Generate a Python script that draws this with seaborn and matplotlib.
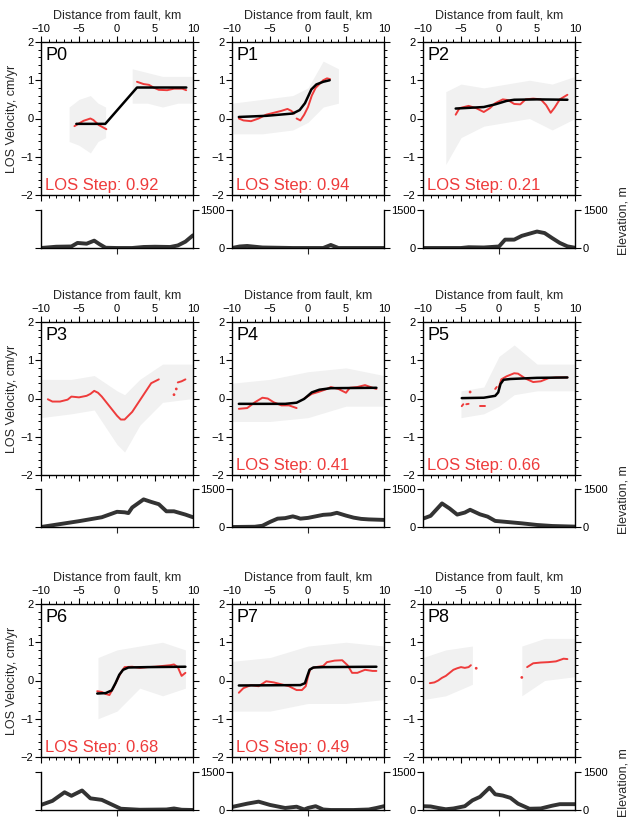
import numpy as np
import pandas as pd
import matplotlib
matplotlib.use("Agg")
import matplotlib.pyplot as plt
from matplotlib.ticker import MultipleLocator, FixedLocator
import seaborn as sns

sns.set_theme(style="white")
plt.rcParams['font.family'] = ['Liberation Sans', 'DejaVu Sans']

# ---------------- data ----------------
panel_names = ["P0", "P1", "P2", "P3", "P4", "P5", "P6", "P7", "P8"]
los_steps = [0.92, 0.94, 0.21, None, 0.41, 0.66, 0.68, 0.49, None]

# black model fits (x km, v cm/yr)
fit_x = {
    "P0": [-5.35, -1.54, 2.63, 9.12],
    "P1": [-9.1, -5.5, -2.0, -1.1, -0.4, 0.0, 0.44, 1.1, 2.0, 2.85],
    "P2": [-5.7, -2.0, -0.5, 1.0, 2.0, 5.0, 9.0],
    "P4": [-9.1, -3.0, -1.5, -0.5, 0.5, 1.5, 3.0, 9.0],
    "P5": [-4.9, -2.0, -0.5, -0.1, 0.2, 0.6, 1.5, 5.0, 9.0],
    "P6": [-2.6, -1.5, -0.7, -0.2, 0.3, 0.8, 1.5, 4.0, 9.0],
    "P7": [-9.1, -1.0, -0.4, -0.1, 0.2, 0.7, 2.0, 9.0],
}
fit_v = {
    "P0": [-0.14, -0.14, 0.81, 0.81],
    "P1": [0.04, 0.07, 0.13, 0.22, 0.40, 0.57, 0.76, 0.89, 0.96, 1.00],
    "P2": [0.26, 0.30, 0.37, 0.46, 0.49, 0.50, 0.49],
    "P4": [-0.14, -0.14, -0.11, -0.01, 0.16, 0.23, 0.27, 0.28],
    "P5": [0.01, 0.02, 0.07, 0.16, 0.38, 0.49, 0.51, 0.54, 0.55],
    "P6": [-0.34, -0.33, -0.26, -0.07, 0.15, 0.28, 0.34, 0.35, 0.36],
    "P7": [-0.13, -0.12, -0.07, 0.11, 0.28, 0.34, 0.35, 0.36],
}

# red running means: list of segments per panel
red_x = {
    "P0": [[-5.6, -4.4, -3.5, -3.1, -2.4, -1.4],
           [2.63, 3.5, 4.2, 4.8, 5.5, 6.6, 7.5, 8.6, 9.1]],
    "P1": [[-9.1, -8.5, -7.5, -6.5, -5.5, -4.5, -3.5, -2.7, -2.2, -1.8],
           [-1.5, -1.0, -0.5, 0.0, 0.5, 1.0, 1.5, 2.0, 2.5, 2.9]],
    "P2": [[-5.7, -5.2, -4.0, -3.0, -2.0, -1.2, -0.5, 0.5, 1.2, 2.0, 2.8,
            3.5, 4.5, 5.5, 6.2, 6.8, 7.3, 8.0, 9.0]],
    "P3": [[-9.1, -8.5, -7.5, -6.5, -6.0, -5.0, -4.0, -3.5, -3.0, -2.5, -2.0,
            -1.0, 0.0, 0.5, 1.0, 2.0, 3.0, 4.0, 4.5, 5.0, 5.5],
           [7.5], [7.8], [8.0, 8.5, 9.0]],
    "P4": [[-9.1, -8.0, -7.0, -6.0, -5.3, -4.5, -3.5, -2.5, -1.5],
           [-0.5, 0.5, 1.5, 2.5, 3.0, 4.0, 5.0, 5.5, 6.5, 7.5, 8.5, 9.0]],
    "P5": [[-4.9, -4.7], [-4.3, -4.0], [-3.8], [-2.5, -2.2, -1.9], [-0.5, -0.3],
           [0.0, 0.3, 1.0, 2.0, 2.5, 3.5, 4.5, 5.5, 6.5, 7.5, 9.0]],
    "P6": [[-2.6, -2.0, -1.5, -1.0, -0.5, 0.0, 0.5, 1.0, 2.0, 3.0, 4.0, 5.0,
            6.0, 7.0, 7.5, 8.0, 8.5, 9.0]],
    "P7": [[-9.1, -8.5, -7.5, -6.5, -5.5, -4.5, -3.5, -2.5, -1.5, -0.8, -0.3,
            0.0, 0.3, 1.0, 2.0, 2.5, 3.5, 4.5, 5.2, 5.8, 6.5, 7.5, 8.5, 9.0]],
    "P8": [[-9.1, -8.5, -8.0, -7.5, -7.0, -6.5, -6.0, -5.5, -5.0, -4.5, -4.0, -3.7],
           [-3.0], [3.0],
           [3.7, 4.5, 5.5, 6.5, 7.5, 8.5, 9.0]],
}
red_v = {
    "P0": [[-0.20, -0.06, 0.00, -0.04, -0.17, -0.28],
           [0.96, 0.90, 0.88, 0.81, 0.75, 0.74, 0.78, 0.78, 0.74]],
    "P1": [[0.0, -0.05, -0.07, 0.0, 0.10, 0.15, 0.20, 0.25, 0.20, 0.13],
           [0.0, -0.05, 0.10, 0.30, 0.60, 0.80, 0.90, 1.00, 1.05, 1.03]],
    "P2": [[0.10, 0.27, 0.33, 0.27, 0.17, 0.27, 0.40, 0.50, 0.48, 0.38, 0.37,
            0.50, 0.52, 0.50, 0.35, 0.15, 0.28, 0.50, 0.62]],
    "P3": [[-0.02, -0.08, -0.08, -0.03, 0.05, 0.03, 0.07, 0.12, 0.20, 0.15, 0.05,
            -0.20, -0.45, -0.55, -0.55, -0.35, -0.05, 0.25, 0.40, 0.45, 0.50],
           [0.10], [0.25], [0.42, 0.45, 0.50]],
    "P4": [[-0.27, -0.25, -0.10, 0.02, 0.0, -0.10, -0.18, -0.18, -0.25],
           [0.0, 0.12, 0.18, 0.25, 0.30, 0.25, 0.15, 0.28, 0.30, 0.35, 0.28, 0.25]],
    "P5": [[-0.20, -0.15], [-0.15, -0.14], [0.17], [-0.20, -0.20, -0.20], [0.25, 0.30],
           [0.30, 0.50, 0.58, 0.66, 0.65, 0.52, 0.43, 0.45, 0.53, 0.55, 0.55]],
    "P6": [[-0.28, -0.30, -0.35, -0.38, -0.20, 0.0, 0.20, 0.35, 0.36, 0.33, 0.35,
            0.36, 0.38, 0.40, 0.42, 0.35, 0.12, 0.20]],
    "P7": [[-0.32, -0.20, -0.12, -0.15, -0.02, -0.05, -0.10, -0.15, -0.25, -0.25,
            -0.15, 0.10, 0.30, 0.35, 0.38, 0.48, 0.52, 0.53, 0.40, 0.20, 0.20,
            0.28, 0.25, 0.25]],
    "P8": [[-0.07, -0.05, 0.0, 0.07, 0.12, 0.20, 0.28, 0.32, 0.35, 0.33, 0.35, 0.40],
           [0.32], [0.08],
           [0.35, 0.45, 0.47, 0.48, 0.50, 0.57, 0.56]],
}

# gray data clouds: segments of (x, lower, upper)
cloud_x = {
    "P0": [[-6.3, -5.0, -3.5, -2.5, -1.5], [2.0, 4.0, 6.0, 8.0, 10.0]],
    "P1": [[-10.0, -6.0, -2.0, 0.0, 2.0, 4.0]],
    "P2": [[-7.0, -5.0, -2.0, 1.0, 4.0, 7.0, 10.0]],
    "P3": [[-10.0, -6.0, -3.0, 0.0, 1.0, 3.0, 6.0, 10.0]],
    "P4": [[-10.0, -5.0, 0.0, 5.0, 10.0]],
    "P5": [[-5.0, -2.0, 0.0, 2.0, 5.0, 10.0]],
    "P6": [[-2.5, 0.0, 3.0, 6.0, 9.0]],
    "P7": [[-10.0, -5.0, 0.0, 5.0, 10.0]],
    "P8": [[-10.0, -7.0, -3.5], [3.0, 6.0, 10.0]],
}
cloud_lo = {
    "P0": [[-0.6, -0.7, -0.9, -0.6, -0.5], [0.4, 0.4, 0.3, 0.4, 0.4]],
    "P1": [[-0.4, -0.4, -0.3, -0.1, 0.3, 0.4]],
    "P2": [[-1.2, -0.5, -0.2, -0.1, 0.0, -0.3, 0.0]],
    "P3": [[-0.5, -0.4, -0.3, -1.2, -1.4, -0.7, -0.1, 0.0]],
    "P4": [[-0.6, -0.6, -0.5, -0.2, -0.2]],
    "P5": [[-0.5, -0.4, -0.2, 0.1, 0.2, 0.2]],
    "P6": [[-1.0, -0.8, -0.2, -0.4, -0.2]],
    "P7": [[-0.8, -0.8, -0.6, -0.6, -0.5]],
    "P8": [[-0.5, -0.4, -0.1], [-0.4, 0.0, 0.1]],
}
cloud_hi = {
    "P0": [[0.3, 0.5, 0.6, 0.4, 0.3], [1.3, 1.2, 1.1, 1.1, 1.1]],
    "P1": [[0.4, 0.5, 0.6, 0.8, 1.5, 1.3]],
    "P2": [[0.7, 0.9, 0.8, 0.9, 1.0, 0.9, 1.1]],
    "P3": [[0.5, 0.5, 0.6, 0.2, 0.1, 0.5, 0.9, 0.9]],
    "P4": [[0.4, 0.5, 0.7, 0.8, 0.6]],
    "P5": [[0.2, 0.3, 1.1, 1.4, 0.9, 0.9]],
    "P6": [[0.6, 0.8, 0.9, 1.0, 0.8]],
    "P7": [[0.5, 0.6, 0.9, 1.0, 0.9]],
    "P8": [[0.6, 0.8, 0.9], [0.9, 1.1, 1.1]],
}

# elevation profiles (x km, elevation m)
elev_x = {
    "P0": [-10, -8, -6, -5.2, -4, -3, -2.3, -1.5, 0, 2, 3.5, 5, 7, 8, 9, 10],
    "P1": [-10, -9, -8, -7, -6, -4, -2, 0, 2, 2.5, 3, 3.5, 4, 6, 8, 10],
    "P2": [-10, -7, -5, -4, -2, 0, 0.8, 2, 3, 5, 6, 7, 8, 9, 10],
    "P3": [-10, -5, -2, 0, 1, 1.5, 2, 3.5, 4.5, 5.5, 6.5, 7.5, 9, 10],
    "P4": [-10, -7, -6, -5, -4, -3, -2, -1.5, -1, 0, 1, 2, 3, 3.8, 5, 6, 7, 8, 9, 10],
    "P5": [-10, -9, -7.5, -6.5, -5.5, -4.5, -3.8, -2.5, -1.5, -0.5, 1, 3, 5, 7, 10],
    "P6": [-10, -8.5, -6.9, -6, -4.6, -3.5, -2, -0.5, 0.5, 3, 6.5, 7.5, 8.5, 10],
    "P7": [-10, -8, -6.5, -5, -3, -1.5, -0.5, 0, 1, 2, 3, 6, 8, 9, 10],
    "P8": [-10, -9, -8, -7, -6, -4.5, -3.5, -2.5, -1.25, -0.5, 0.5, 1.5, 2.5, 4, 5.5, 7, 8, 10],
}
elev_z = {
    "P0": [0, 50, 60, 200, 170, 290, 150, 10, 0, 0, 40, 50, 40, 100, 250, 500],
    "P1": [0, 60, 80, 50, 20, 10, 0, 0, 0, 60, 120, 60, 0, 0, 0, 0],
    "P2": [0, 0, 0, 30, 20, 60, 330, 330, 480, 650, 590, 390, 200, 65, 10],
    "P3": [0, 230, 385, 600, 580, 550, 770, 1090, 990, 900, 620, 620, 490, 385],
    "P4": [0, 10, 50, 200, 330, 350, 420, 380, 330, 360, 420, 480, 500, 560, 450,
           370, 320, 300, 290, 280],
    "P5": [330, 440, 930, 730, 490, 570, 680, 500, 410, 240, 200, 145, 80, 40, 15],
    "P6": [200, 360, 700, 560, 770, 460, 400, 190, 50, 10, 20, 60, 10, 0],
    "P7": [120, 250, 330, 200, 80, 130, 20, 80, 150, 20, 0, 0, 20, 80, 150],
    "P8": [150, 140, 80, 30, 60, 150, 380, 520, 880, 620, 570, 480, 250, 50, 60,
           170, 230, 230],
}

# ---------------- layout ----------------
W, H = 634, 818
fig = plt.figure(figsize=(W / 100, H / 100), dpi=100)

col_left = [41, 232, 423]
ax_w = 152
row_top = [42, 322, 604]
ax_h = 153
elev_top = [210, 489, 772]
elev_h = 38

RED = "#ee3b3b"
GRAY_CLOUD = "#f1f1f1"


def frac(left, top, w, h):
    return [left / W, 1 - (top + h) / H, w / W, h / H]


for i, name in enumerate(panel_names):
    r, c = divmod(i, 3)
    ax = fig.add_axes(frac(col_left[c], row_top[r], ax_w, ax_h))

    # gray clouds
    for xs, lo, hi in zip(cloud_x[name], cloud_lo[name], cloud_hi[name]):
        ax.fill_between(xs, lo, hi, color=GRAY_CLOUD, lw=0, zorder=1)

    # red running means
    for xs, vs in zip(red_x[name], red_v[name]):
        if len(xs) == 1:
            sns.scatterplot(x=xs, y=vs, ax=ax, color=RED, s=4, edgecolor="none",
                            zorder=3, legend=False)
        else:
            sns.lineplot(x=xs, y=vs, ax=ax, color=RED, lw=1.4, zorder=3,
                         sort=False, estimator=None, legend=False)

    # black model fit
    if name in fit_x:
        sns.lineplot(x=fit_x[name], y=fit_v[name], ax=ax, color="black", lw=1.8,
                     zorder=4, sort=False, estimator=None, legend=False)

    ax.set_xlim(-10, 10)
    ax.set_ylim(-2, 2)
    ax.xaxis.set_major_locator(FixedLocator([-10, -5, 0, 5, 10]))
    ax.xaxis.set_minor_locator(MultipleLocator(1))
    ax.yaxis.set_major_locator(FixedLocator([-2, -1, 0, 1, 2]))
    ax.yaxis.set_minor_locator(MultipleLocator(0.2))
    ax.xaxis.tick_top()
    ax.xaxis.set_label_position("top")
    ax.tick_params(axis="both", which="both", direction="out", top=True, bottom=True,
                   left=True, right=True, labeltop=True, labelbottom=False,
                   labelleft=True, labelright=False, labelsize=8, pad=1.5,
                   colors="black")
    ax.tick_params(which="major", length=4, width=0.8)
    ax.tick_params(which="minor", length=2.2, width=0.7)
    ax.set_xticklabels(["\u221210", "\u22125", "0", "5", "10"])
    ax.set_yticklabels(["\u22122", "\u22121", "0", "1", "2"])
    ax.set_xlabel("Distance from fault, km", fontsize=9, labelpad=4)
    for sp in ax.spines.values():
        sp.set_visible(True)
        sp.set_color("black")
        sp.set_linewidth(1.0)
    if c == 0:
        ax.set_ylabel("LOS Velocity, cm/yr", fontsize=9, labelpad=2)
    else:
        ax.set_ylabel("")

    ax.text(0.03, 0.97, name, transform=ax.transAxes, ha="left", va="top",
            fontsize=13, color="black")
    if los_steps[i] is not None:
        ax.text(0.025, 0.01, f"LOS Step: {los_steps[i]:.2f}", transform=ax.transAxes,
                ha="left", va="bottom", fontsize=12, color=RED)

    # elevation axes
    ex = fig.add_axes(frac(col_left[c], elev_top[r], ax_w, elev_h))
    sns.lineplot(x=elev_x[name], y=elev_z[name], ax=ex, color="#333333", lw=2.8,
                 sort=False, estimator=None, legend=False)
    ex.set_xlim(-10, 10)
    ex.set_ylim(0, 1500)
    ex.spines["top"].set_visible(False)
    for s in ["left", "right", "bottom"]:
        ex.spines[s].set_visible(True)
        ex.spines[s].set_color("black")
        ex.spines[s].set_linewidth(1.0)
    ex.xaxis.set_major_locator(FixedLocator([0]))
    ex.yaxis.set_major_locator(FixedLocator([0, 1500]))
    ex.tick_params(axis="x", which="major", direction="out", length=4, width=0.8,
                   bottom=True, labelbottom=False, top=False)
    ex.tick_params(axis="y", which="major", direction="out", length=4, width=0.8,
                   left=True, right=True, labelsize=8, pad=1.5,
                   labelleft=(c != 0), labelright=(c == 2), colors="black")
    ex.set_xlabel("")
    ex.set_ylabel("")
    if c == 2:
        # rotated label on the right of the elevation panel
        fig.text(624 / W, 1 - (elev_top[r] + elev_h / 2 - 8) / H, "Elevation, m",
                 rotation=90, ha="center", va="center", fontsize=9)

fig.savefig("out.png", dpi=100)
